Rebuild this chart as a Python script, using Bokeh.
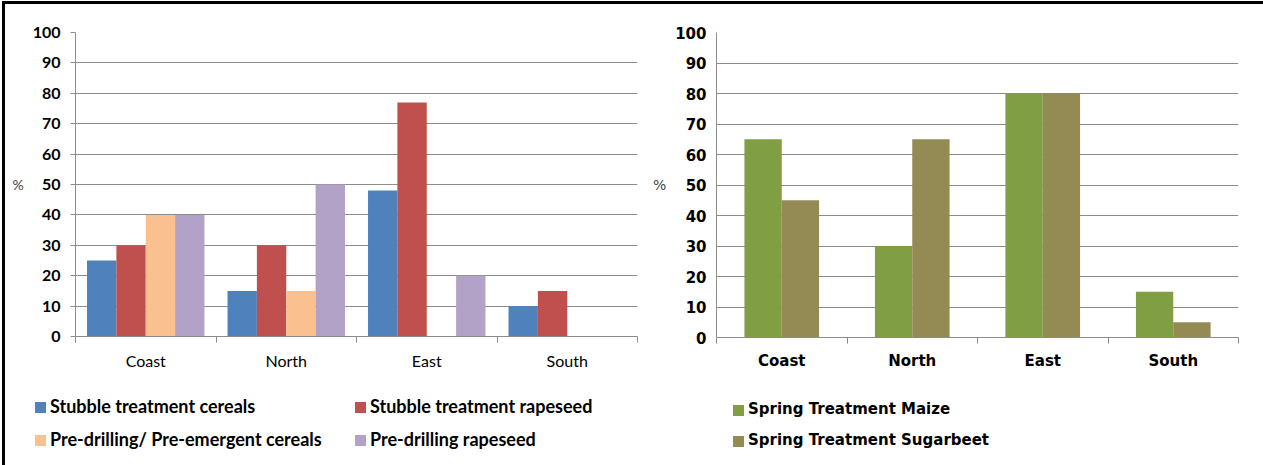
from bokeh.plotting import figure
from bokeh.models import ColumnDataSource, Range1d, FixedTicker, Div
from bokeh.layouts import row, column
from bokeh.transform import dodge
from bokeh.embed import file_html
from bokeh.resources import INLINE

# Share of fields treated, by region (%)
regions = ["Coast", "North", "East", "South"]
stubble_cereals = [25, 15, 48, 10]
stubble_rapeseed = [30, 30, 77, 15]
predrill_cereals = [40, 15, 0, 0]
predrill_rapeseed = [40, 50, 20, 0]
spring_maize = [65, 30, 80, 15]
spring_sugarbeet = [45, 65, 80, 5]
y_ticks = list(range(0, 101, 10))

autumn_names = ["Stubble treatment cereals", "Stubble treatment rapeseed",
                "Pre-drilling/ Pre-emergent cereals", "Pre-drilling rapeseed"]
autumn_colors = ["#4F81BD", "#C0504D", "#FAC090", "#B3A2C7"]
spring_names = ["Spring Treatment Maize", "Spring Treatment Sugarbeet"]
spring_colors = ["#7F9F42", "#948A54"]

GRID = "#8C8C8C"
CHART_H = 368
KEY_H = 93

# each region occupies one unit slot; labels sit mid-slot, ticks on slot edges
centers = [i + 0.5 for i in range(len(regions))]
edges = list(range(len(regions) + 1))


def make_panel(width, border_left, frame_w, font, tick_size, cat_size, cat_style,
               tick_out, y_standoff):
    p = figure(x_range=Range1d(0, len(regions)), y_range=Range1d(0, 100),
               width=width, height=CHART_H, output_backend="svg", toolbar_location=None,
               min_border_left=border_left, min_border_right=width - border_left - frame_w,
               min_border_top=28, min_border_bottom=CHART_H - 28 - 305)
    p.outline_line_color = None
    p.background_fill_color = "white"
    p.border_fill_color = "white"
    p.xgrid.grid_line_color = None
    p.ygrid.ticker = FixedTicker(ticks=y_ticks)
    p.ygrid.grid_line_color = GRID

    ya = p.yaxis[0]
    ya.ticker = FixedTicker(ticks=y_ticks)
    ya.axis_line_color = GRID
    ya.major_tick_line_color = GRID
    ya.major_tick_out = tick_out
    ya.major_tick_in = 0
    ya.minor_tick_line_color = None
    ya.major_label_text_font = font
    ya.major_label_text_font_size = tick_size
    ya.major_label_text_font_style = "bold"
    ya.major_label_text_color = "black"
    ya.major_label_standoff = y_standoff
    ya.axis_label = "%"
    ya.axis_label_orientation = "horizontal"
    ya.axis_label_text_font = font
    ya.axis_label_text_font_size = "14px"
    ya.axis_label_text_font_style = "normal"
    ya.axis_label_standoff = 6

    xa = p.xaxis[0]
    xa.ticker = FixedTicker(ticks=centers, minor_ticks=edges)
    xa.major_label_overrides = {c: r for c, r in zip(centers, regions)}
    xa.axis_line_color = GRID
    xa.major_tick_line_color = None
    xa.minor_tick_line_color = GRID
    xa.minor_tick_in = 0
    xa.minor_tick_out = 6
    xa.major_tick_out = 6
    xa.major_tick_in = 0
    xa.major_label_standoff = 8
    xa.major_label_text_font = font
    xa.major_label_text_font_size = cat_size
    xa.major_label_text_font_style = cat_style
    xa.major_label_text_color = "black"
    return p


def add_bars(p, series, colors, bar_w):
    data = {"pos": centers}
    for i, s in enumerate(series):
        data[f"s{i}"] = s
    src = ColumnDataSource(data)
    n = len(series)
    for i in range(n):
        off = (i - (n - 1) / 2) * bar_w
        p.vbar(x=dodge("pos", off), top=f"s{i}", width=bar_w,
               source=src, fill_color=colors[i], line_color=None)


def make_key(width, names, colors, font, size, slots):
    """Legend strip under a chart: a colour swatch and a name per series."""
    html = [f'<div style="position:relative;width:{width}px;height:{KEY_H}px;'
            f'font-family:\'{font}\';font-weight:bold;font-size:{size};color:#000;">']
    for name, color, (x, y) in zip(names, colors, slots):
        html.append(
            f'<div style="position:absolute;left:{x}px;top:{y}px;height:18px;'
            f'display:flex;align-items:center;white-space:nowrap;">'
            f'<span style="display:inline-block;width:11px;height:11px;background:{color};'
            f'margin-right:4px;"></span>{name}</div>')
    html.append('</div>')
    return Div(text="".join(html), width=width, height=KEY_H, margin=(0, 0, 0, 0))


# Autumn treatments
left = make_panel(635, 70, 562, "Lato", "16px", "16px", "normal", 5, 10)
add_bars(left, [stubble_cereals, stubble_rapeseed, predrill_cereals, predrill_rapeseed],
         autumn_colors, 0.209)
left_key = make_key(635, autumn_names, autumn_colors, "Lato", "18px",
                    [(30, 26), (350, 26), (30, 59), (350, 59)])

# Spring treatments
right = make_panel(623, 76, 522, "DejaVu Sans", "15px", "15px", "bold", 0, 10)
add_bars(right, [spring_maize, spring_sugarbeet], spring_colors, 0.286)
right_key = make_key(623, spring_names, spring_colors, "DejaVu Sans", "15px",
                     [(93, 29), (93, 60)])

page = row(column(left, left_key), column(right, right_key),
           styles={"border-top": "3px solid black", "border-left": "3px solid black",
                   "margin-top": "1px", "margin-left": "2px"})

open("out.html", "w").write(file_html(page, INLINE))
